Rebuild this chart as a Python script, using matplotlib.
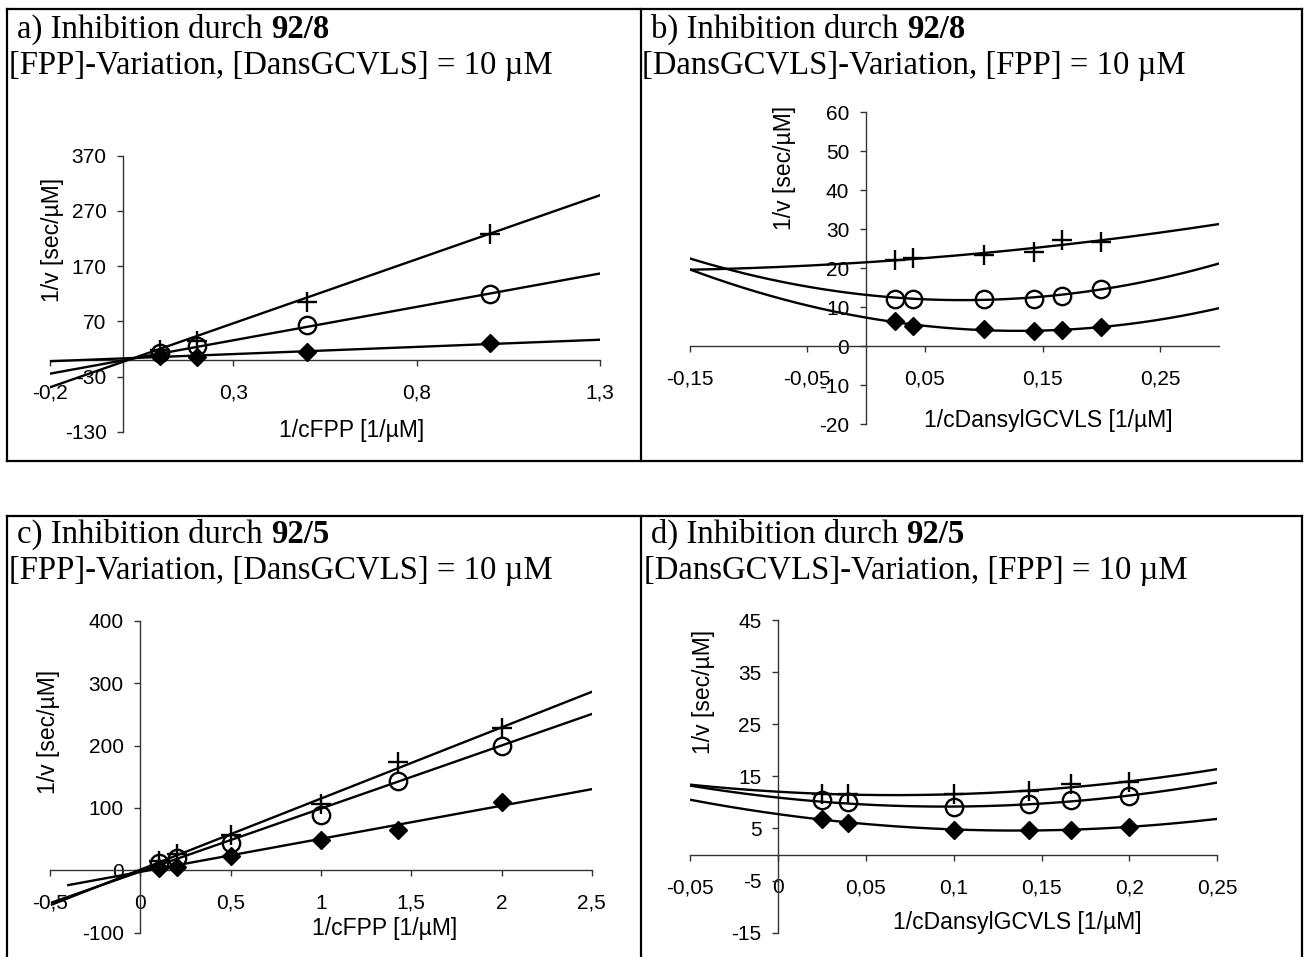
import numpy as np
import matplotlib
matplotlib.use("Agg")
import matplotlib.pyplot as plt
from matplotlib.lines import Line2D

W, H = 1308, 957
fig = plt.figure(figsize=(W / 100, H / 100), dpi=100)
fig.patch.set_facecolor("white")

SANS = "Liberation Sans"
SERIF = "Liberation Serif"

# ---------------- data ----------------
# panel a: FPP variation, inhibitor 92/8
a_x = [0.1, 0.2, 0.5, 1.0]
a_diamond = [8, 6, 15, 30]
a_circle = [13, 25, 63, 120]
a_plus = [18, 35, 105, 228]
a_slopes = [26, 121, 232]          # linear trend lines (diamond, circle, plus)
a_intercepts = [3, -0.5, -3]
a_xticks = [-0.2, 0.3, 0.8, 1.3]
a_xticklabels = ["-0,2", "0,3", "0,8", "1,3"]
a_yticks = [-130, -30, 70, 170, 270, 370]

# panel b: DansGCVLS variation, inhibitor 92/8
b_x = [0.025, 0.04, 0.1, 0.1429, 0.1667, 0.2]
b_diamond = [6.5, 5.1, 4.3, 3.9, 4.1, 4.8]
b_circle = [12.2, 12.2, 12.0, 12.2, 12.8, 14.7]
b_plus = [22.1, 22.6, 23.5, 24.2, 27.1, 26.6]
b_poly_diamond = [201.5, -52.4, 7.31]   # 2nd order trend lines
b_poly_circle = [198.5, -32.7, 13.14]
b_poly_plus = [44.4, 19.4, 21.5]
b_xticks = [-0.15, -0.05, 0.05, 0.15, 0.25]
b_xticklabels = ["-0,15", "-0,05", "0,05", "0,15", "0,25"]
b_yticks = [-20, -10, 0, 10, 20, 30, 40, 50, 60]

# panel c: FPP variation, inhibitor 92/5
c_x = [0.1, 0.2, 0.5, 1.0, 1.4286, 2.0]
c_diamond = [3.2, 4.8, 22.4, 49, 64, 109]
c_circle = [11.7, 19.7, 43.7, 88, 142.4, 200]
c_plus = [15.5, 26, 57, 107, 173, 228]
c_slopes = [53, 101, 114]
c_intercepts = [-2.5, -2, 1]
c_trend_start = [-0.40, -0.49, -0.49]
c_xticks = [-0.5, 0, 0.5, 1, 1.5, 2, 2.5]
c_xticklabels = ["-0,5", "0", "0,5", "1", "1,5", "2", "2,5"]
c_yticks = [-100, 0, 100, 200, 300, 400]

# panel d: DansGCVLS variation, inhibitor 92/5
d_x = [0.025, 0.04, 0.1, 0.1429, 0.1667, 0.2]
d_diamond = [6.8, 6.0, 4.7, 4.7, 4.7, 5.2]
d_circle = [10.4, 10.0, 9.2, 9.7, 10.5, 11.3]
d_plus = [11.6, 11.6, 11.6, 12.1, 13.6, 14.0]
d_poly_diamond = [171.5, -46.5, 7.75]
d_poly_circle = [191.7, -36.35, 10.92]
d_poly_plus = [147.8, -19.6, 12.05]
d_xticks = [-0.05, 0, 0.05, 0.1, 0.15, 0.2, 0.25]
d_xticklabels = ["-0,05", "0", "0,05", "0,1", "0,15", "0,2", "0,25"]
d_yticks = [-15, -5, 5, 15, 25, 35, 45]

ylabel = "1/v [sec/µM]"

# ---------------- helpers ----------------
def fx(px):
    return px / W

def fy(py):
    return 1 - py / H

def add_axes_px(x0, x1, ytop, ybot):
    return fig.add_axes([fx(x0), fy(ybot), (x1 - x0) / W, (ybot - ytop) / H])

def style_axes(ax, xlim, ylim, xticks, xticklabels, yticks):
    ax.set_xlim(*xlim)
    ax.set_ylim(*ylim)
    ax.patch.set_alpha(0)
    for s in ("top", "right"):
        ax.spines[s].set_visible(False)
    ax.spines["left"].set_position(("data", 0))
    ax.spines["bottom"].set_position(("data", 0))
    for s in ("left", "bottom"):
        ax.spines[s].set_color("#333333")
        ax.spines[s].set_linewidth(1.0)
    ax.set_xticks(xticks)
    ax.set_xticklabels(xticklabels)
    ax.set_yticks(yticks)
    ax.set_yticklabels([str(v) for v in yticks])
    ax.tick_params(axis="x", direction="out", length=4, width=1.0,
                   color="#333333", pad=13)
    ax.tick_params(axis="y", direction="out", length=4, width=1.0,
                   color="#333333", pad=8)
    for lab in ax.get_xticklabels() + ax.get_yticklabels():
        lab.set_fontfamily(SANS)
        lab.set_fontsize(15)
        lab.set_color("black")

MK = dict(color="black", linestyle="none", zorder=4)

def draw_points(ax, x, dia, cir, plu):
    ax.plot(x, dia, marker="D", ms=9.5, mew=1, mfc="black", mec="black", **MK)
    ax.plot(x, cir, marker="o", ms=12.5, mew=1.7, mfc="none", mec="black", **MK)
    ax.plot(x, plu, marker="+", ms=14, mew=1.7, mec="black", **MK)

LW = 1.7

def linear_trends(ax, slopes, intercepts, starts, end):
    for m, b, s in zip(slopes, intercepts, starts):
        xs = np.array([s, end])
        ax.plot(xs, m * xs + b, color="black", lw=LW, zorder=3)

def poly_trends(ax, polys, x0, x1):
    xs = np.linspace(x0, x1, 200)
    for p in polys:
        ax.plot(xs, np.polyval(p, xs), color="black", lw=LW, zorder=3)

# ---------------- panels ----------------
# a
ax_a = add_axes_px(50, 600, 155.8, 431.8)
style_axes(ax_a, (-0.2, 1.3), (-130, 370), a_xticks, a_xticklabels, a_yticks)
linear_trends(ax_a, a_slopes, a_intercepts, [-0.2] * 3, 1.3)
draw_points(ax_a, a_x, a_diamond, a_circle, a_plus)

# b
ax_b = add_axes_px(689.5, 1219, 112.3, 424)
style_axes(ax_b, (-0.15, 0.30), (-20, 60), b_xticks, b_xticklabels, b_yticks)
poly_trends(ax_b, [b_poly_diamond, b_poly_circle, b_poly_plus], -0.15, 0.30)
draw_points(ax_b, b_x, b_diamond, b_circle, b_plus)

# c
ax_c = add_axes_px(50.2, 591.8, 620.7, 932.7)
style_axes(ax_c, (-0.5, 2.5), (-100, 400), c_xticks, c_xticklabels, c_yticks)
linear_trends(ax_c, c_slopes, c_intercepts, c_trend_start, 2.5)
draw_points(ax_c, c_x, c_diamond, c_circle, c_plus)

# d
ax_d = add_axes_px(690.3, 1217.3, 620, 932.7)
style_axes(ax_d, (-0.05, 0.25), (-15, 45), d_xticks, d_xticklabels, d_yticks)
poly_trends(ax_d, [d_poly_diamond, d_poly_circle, d_poly_plus], -0.05, 0.25)
draw_points(ax_d, d_x, d_diamond, d_circle, d_plus)

# axis labels
LAB = dict(fontfamily=SANS, fontsize=16.5, color="black", ha="center", va="center")
fig.text(fx(352), fy(430), "1/cFPP [1/µM]", **LAB)
fig.text(fx(1048), fy(420), "1/cDansylGCVLS [1/µM]", **LAB)
fig.text(fx(385), fy(928), "1/cFPP [1/µM]", **LAB)
fig.text(fx(1017), fy(922), "1/cDansylGCVLS [1/µM]", **LAB)
fig.text(fx(52), fy(240), ylabel, rotation=90, **LAB)
fig.text(fx(785), fy(168), ylabel, rotation=90, **LAB)
fig.text(fx(49), fy(732), ylabel, rotation=90, **LAB)
fig.text(fx(704), fy(692), ylabel, rotation=90, **LAB)

# titles
TFS = 23.6
def title(x1, y1, x2, y2, head, bold, line2):
    t = fig.text(fx(x1), fy(y1), head, fontfamily=SERIF, fontsize=TFS,
                 ha="left", va="baseline")
    fig.add_artist(plt.Annotation(bold, xy=(1, 0), xycoords=t,
                                  ha="left", va="bottom",
                                  fontfamily=SERIF, fontsize=TFS,
                                  fontweight="bold"))
    fig.text(fx(x2), fy(y2), line2, fontfamily=SERIF, fontsize=TFS,
             ha="left", va="baseline")

title(17, 38, 9, 74, "a) Inhibition durch ", "92/8",
      "[FPP]-Variation, [DansGCVLS] = 10 µM")
title(651, 38, 642, 74, "b) Inhibition durch ", "92/8",
      "[DansGCVLS]-Variation, [FPP] = 10 µM")
title(17, 543, 9, 579, "c) Inhibition durch ", "92/5",
      "[FPP]-Variation, [DansGCVLS] = 10 µM")
title(651, 543, 644, 579, "d) Inhibition durch ", "92/5",
      "[DansGCVLS]-Variation, [FPP] = 10 µM")

# frames
BL = dict(color="black", lw=1.6, solid_capstyle="projecting")
def hline(y, x0, x1):
    fig.add_artist(Line2D([fx(x0), fx(x1)], [fy(y), fy(y)], **BL))
def vline(x, y0, y1):
    fig.add_artist(Line2D([fx(x), fx(x)], [fy(y0), fy(y1)], **BL))

hline(9, 7, 1302)
hline(461, 7, 1302)
vline(7, 9, 461)
vline(641, 9, 461)
vline(1302, 9, 461)
hline(516, 7, 1302)
vline(7, 516, 957)
vline(641, 516, 957)
vline(1302, 516, 957)

fig.savefig("out.png", dpi=100, facecolor="white")
